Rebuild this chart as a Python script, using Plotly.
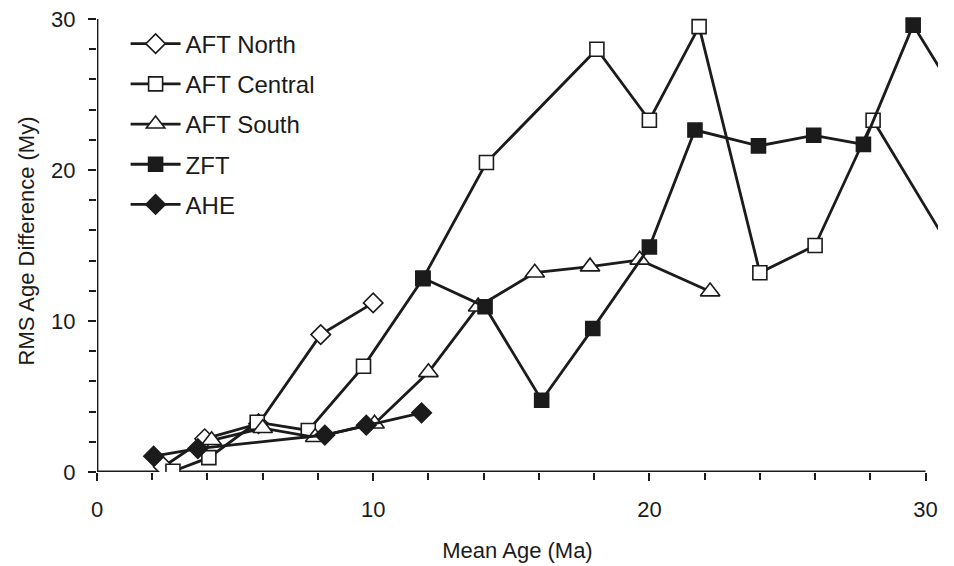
import plotly.graph_objects as go

# ---- data ----
north_x = [2.4, 3.9, 5.85, 8.1, 10.0]
north_y = [0.35, 2.2, 3.2, 9.1, 11.2]

central_x = [2.75, 4.05, 5.8, 7.65, 9.65, 11.8, 14.1, 18.1, 20.0, 21.8, 24.0, 26.0, 28.1, 31.0]
central_y = [0.05, 0.95, 3.3, 2.75, 7.0, 12.8, 20.5, 28.0, 23.3, 29.5, 13.2, 15.0, 23.3, 14.5]

south_x = [4.15, 6.0, 7.9, 10.05, 12.0, 13.8, 15.85, 17.85, 19.65, 22.2]
south_y = [2.1, 2.9, 2.3, 3.2, 6.6, 10.95, 13.2, 13.6, 14.05, 11.95]

zft_x = [11.8, 14.05, 16.1, 17.95, 20.0, 21.65, 23.95, 25.95, 27.75, 29.55, 31.0]
zft_y = [12.85, 10.95, 4.75, 9.5, 14.9, 22.65, 21.6, 22.3, 21.7, 29.6, 25.3]

ahe_x = [2.05, 3.65, 8.25, 9.75, 11.75]
ahe_y = [1.05, 1.55, 2.45, 3.1, 3.92]

x_ticks = [0, 10, 20, 30]
y_ticks = [0, 10, 20, 30]

INK = "#1b1b1b"
FONT = "Liberation Sans, Arial, sans-serif"

series = [
    ("AFT North", north_x, north_y, "diamond", "white", 15),
    ("AFT Central", central_x, central_y, "square", "white", 14),
    ("AFT South", south_x, south_y, "triangle-up", "white", 17),
    ("ZFT", zft_x, zft_y, "square", INK, 14),
    ("AHE", ahe_x, ahe_y, "diamond", INK, 15),
]

fig = go.Figure()
for name, xs, ys, sym, fill, size in series:
    fig.add_trace(go.Scatter(
        x=xs, y=ys, name=name, legendgroup=name,
        mode="lines+markers",
        line=dict(color=INK, width=2.8),
        marker=dict(symbol=sym, size=size, color=fill,
                    line=dict(color=INK, width=1.6)),
    ))

fig.update_layout(
    width=954, height=566,
    margin=dict(l=89, r=24, t=2, b=102),
    paper_bgcolor="white", plot_bgcolor="white",
    font=dict(family=FONT, size=22, color=INK),
    showlegend=True,
    legend=dict(
        x=0.034, y=0.975, xanchor="left", yanchor="top",
        bgcolor="rgba(0,0,0,0)", font=dict(size=24, color=INK),
        tracegroupgap=6, itemwidth=50,
    ),
    xaxis=dict(
        range=[0, 30.45], showgrid=False, zeroline=False, showline=False,
        automargin=False, ticklabeloverflow="allow",
        tickmode="array", tickvals=x_ticks, ticktext=[str(v) for v in x_ticks],
        ticks="outside", ticklen=8, tickwidth=2, tickcolor=INK,
        ticklabelstandoff=10,
        minor=dict(dtick=2, tick0=0, ticks="outside", ticklen=7,
                   tickwidth=2, tickcolor=INK, showgrid=False),
        title=dict(text="Mean Age (Ma)", font=dict(size=22), standoff=21),
        tickfont=dict(size=22),
    ),
    yaxis=dict(
        range=[0, 30.6], showgrid=False, zeroline=False, showline=False,
        automargin=False, ticklabeloverflow="allow",
        tickmode="array", tickvals=y_ticks, ticktext=[str(v) for v in y_ticks],
        ticks="outside", ticklen=8, tickwidth=2, tickcolor=INK,
        ticklabelstandoff=8,
        minor=dict(dtick=2, tick0=0, ticks="outside", ticklen=7,
                   tickwidth=2, tickcolor=INK, showgrid=False),
        title=dict(text="RMS Age Difference (My)", font=dict(size=22), standoff=10),
        tickfont=dict(size=22),
    ),
)

# axis lines spanning 0..30 only
fig.add_shape(type="line", xref="x", yref="y", x0=0, x1=30, y0=0, y1=0,
              line=dict(color=INK, width=2.8), layer="below")
fig.add_shape(type="line", xref="x", yref="y", x0=0, x1=0, y0=0, y1=30,
              line=dict(color=INK, width=2.8), layer="below")

fig.write_html("out.html")
